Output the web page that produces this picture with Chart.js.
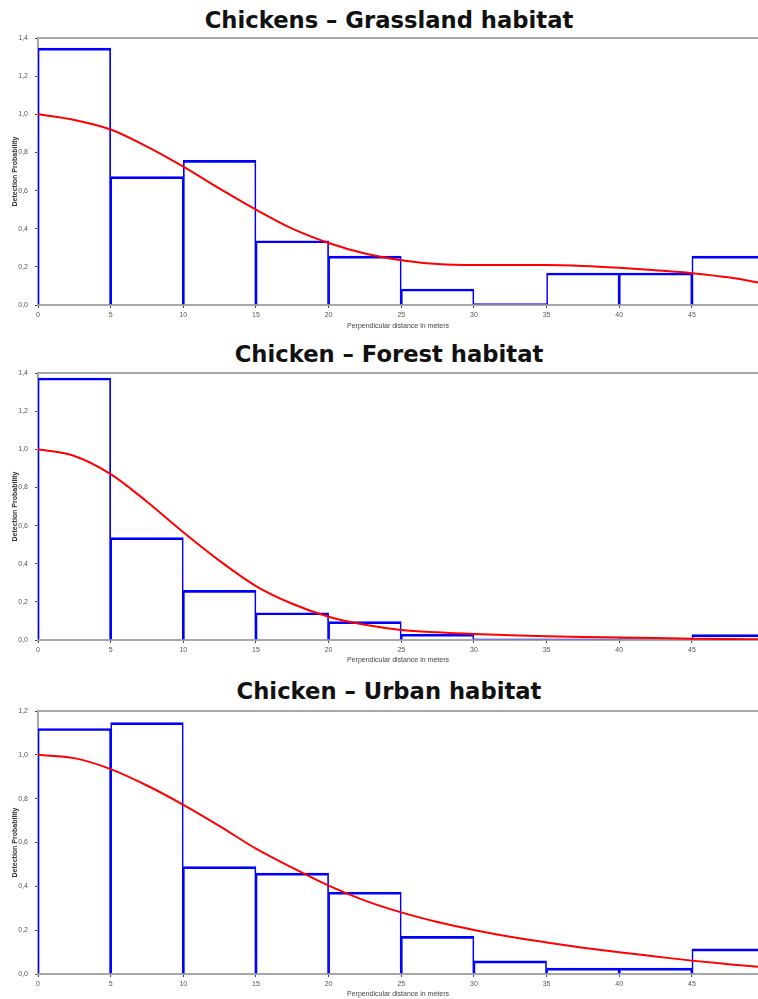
<!DOCTYPE html>
<html>
<head>
<meta charset="utf-8">
<script src="https://cdn.jsdelivr.net/npm/chart.js@4.4.1/dist/chart.umd.min.js"></script>
<style>
    body { margin: 0; background: #fff; }
    #page { position: relative; width: 758px; height: 999px; overflow: hidden; }
    .titulo {
        position: absolute; left: 20px; width: 738px; text-align: center;
        font-family: "DejaVu Sans", Verdana, sans-serif; font-weight: bold;
        font-size: 22.7px; line-height: 26px; color: #111;
    }
    canvas { position: absolute; left: 0; }
</style>
</head>
<body>
<div id="page">
    <div class="titulo" style="top:7px">Chickens – Grassland habitat</div>
    <canvas id="graficoGrassland" width="758" height="335" style="top:0px"></canvas>
    <div class="titulo" style="top:341px">Chicken – Forest habitat</div>
    <canvas id="graficoForest" width="758" height="335" style="top:335px"></canvas>
    <div class="titulo" style="top:678px">Chicken – Urban habitat</div>
    <canvas id="graficoUrban" width="758" height="326" style="top:673px"></canvas>
</div>
<script>
// centro de cada classe de distância (m)
const binMids = [2.5, 7.5, 12.5, 17.5, 22.5, 27.5, 32.5, 37.5, 42.5, 47.5];
// pontos da curva de detecção
const curveX = [0, 2.5, 5, 7.5, 10, 12.5, 15, 17.5, 20, 22.5, 25, 27.5, 30, 32.5, 35, 37.5, 40, 42.5, 45, 47.5, 50];

const grassBars = [1.347, 0.673, 0.758, 0.337, 0.256, 0.084, 0.007, 0.168, 0.168, 0.256];
const grassCurve = [1.0, 0.97, 0.92, 0.83, 0.725, 0.61, 0.50, 0.40, 0.325, 0.27, 0.235, 0.215, 0.21, 0.21, 0.21, 0.205, 0.195, 0.182, 0.167, 0.145, 0.112];

const forestBars = [1.374, 0.537, 0.26, 0.143, 0.096, 0.03, 0.006, 0.006, 0.008, 0.028];
const forestCurve = [1.0, 0.965, 0.87, 0.725, 0.565, 0.415, 0.283, 0.19, 0.122, 0.08, 0.053, 0.04, 0.031, 0.025, 0.02, 0.016, 0.013, 0.01, 0.007, 0.005, 0.004];

const urbanBars = [1.12, 1.147, 0.49, 0.46, 0.373, 0.172, 0.06, 0.027, 0.027, 0.115];
const urbanCurve = [1.0, 0.985, 0.935, 0.86, 0.772, 0.675, 0.572, 0.485, 0.403, 0.335, 0.281, 0.237, 0.201, 0.17, 0.144, 0.12, 0.099, 0.08, 0.061, 0.045, 0.03];

const xMax = 49.55;

// linha cinza no topo da área do gráfico
const bordaTopo = {
    id: 'bordaTopo',
    afterDraw(chart) {
        const a = chart.chartArea;
        const ctx = chart.ctx;
        ctx.save();
        ctx.strokeStyle = '#a8a8a8';
        ctx.lineWidth = 2;
        ctx.beginPath();
        ctx.moveTo(a.left, a.top);
        ctx.lineTo(a.right, a.top);
        ctx.stroke();
        ctx.restore();
    }
};

function criarGrafico(id, barras, curva, yMax, alturaEixoX, tituloPad) {
    const canvas = document.getElementById(id);
    new Chart(canvas, {
        data: {
            datasets: [
                {
                    type: 'line',
                    data: curveX.map((x, i) => ({ x: x, y: curva[i] })),
                    borderColor: '#ff0000',
                    borderWidth: 2,
                    pointRadius: 0,
                    cubicInterpolationMode: 'monotone',
                    fill: false
                },
                {
                    type: 'bar',
                    data: binMids.map((x, i) => ({ x: x, y: barras[i] })),
                    backgroundColor: 'rgba(0,0,0,0)',
                    borderColor: '#0000ff',
                    borderWidth: { top: 2, left: 1, right: 1, bottom: 0 },
                    borderSkipped: 'bottom',
                    barPercentage: 1,
                    categoryPercentage: 1,
                    grouped: false
                }
            ]
        },
        options: {
            responsive: false,
            animation: false,
            layout: { padding: { top: 38, left: 0, right: 0, bottom: 0 } },
            plugins: { legend: { display: false }, tooltip: { enabled: false } },
            scales: {
                x: {
                    type: 'linear',
                    min: 0,
                    max: xMax,
                    offset: false,
                    afterFit: s => { s.height = alturaEixoX; },
                    // só os múltiplos de 5 (tira o tick do máximo)
                    afterBuildTicks: s => { s.ticks = s.ticks.filter(t => t.value % 5 === 0); },
                    ticks: { stepSize: 5, color: '#555', padding: 3, maxRotation: 0,
                        font: { family: 'Liberation Sans', size: 7 } },
                    grid: { offset: false, drawOnChartArea: false, drawTicks: true, tickLength: 3, tickColor: '#444' },
                    border: { color: '#a8a8a8', width: 2 },
                    title: {
                        display: true, text: 'Perpendicular distance in meters', color: '#444',
                        font: { family: 'Liberation Sans', size: 7 },
                        padding: { top: 0, bottom: tituloPad }
                    }
                },
                y: {
                    min: 0,
                    max: yMax,
                    afterFit: s => { s.width = 38; },
                    ticks: { stepSize: 0.2, color: '#555', padding: 7,
                        font: { family: 'Liberation Sans', size: 7 },
                        callback: v => v.toFixed(1).replace('.', ',') },
                    grid: { drawOnChartArea: false, drawTicks: true, tickLength: 3, tickColor: '#444' },
                    border: { color: '#a8a8a8', width: 2 },
                    title: {
                        display: true, text: 'Detection Probability', color: '#333',
                        font: { family: 'Liberation Sans', size: 7, weight: 'bold' },
                        padding: { top: 11, bottom: 0 }
                    }
                }
            }
        },
        plugins: [bordaTopo]
    });
}

criarGrafico('graficoGrassland', grassBars, grassCurve, 1.4, 30, 5);
criarGrafico('graficoForest', forestBars, forestCurve, 1.4, 30, 6);
criarGrafico('graficoUrban', urbanBars, urbanCurve, 1.2, 25, 1);
</script>
</body>
</html>
